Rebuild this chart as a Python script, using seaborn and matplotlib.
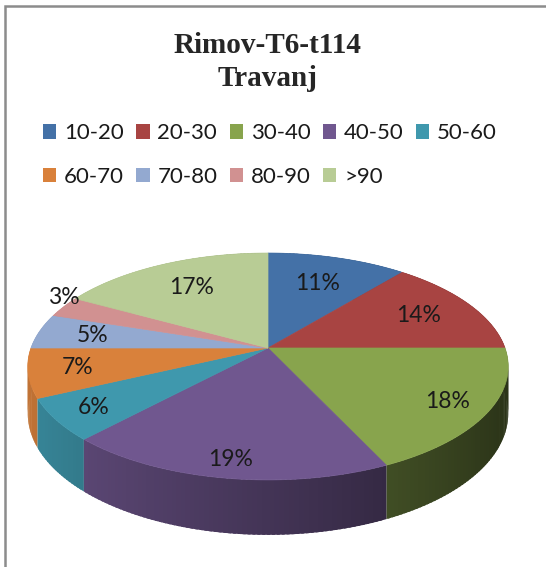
import numpy as np
import matplotlib
matplotlib.use("Agg")
import matplotlib.pyplot as plt
from matplotlib.patches import Polygon, Rectangle
from matplotlib.colors import to_rgb
import seaborn as sns

sns.set_theme(style="white")
plt.rcParams["font.family"] = ["Lato", "DejaVu Sans"]

# data
title = "Rimov-T6-t114\nTravanj"
categories = ["10-20", "20-30", "30-40", "40-50", "50-60", "60-70", "70-80", "80-90", ">90"]
shares = [11, 14, 18, 19, 6, 7, 5, 3, 17]
colors = ["#4471a7", "#a84442", "#88a44d", "#70578f", "#3f98ad",
          "#d9813b", "#93a9d0", "#d19191", "#b8cc95"]

# 3d look (tilt, perspective, thickness)
TILT = 0.466
PERSP = 6.14
DEPTH = 0.194


def project(x, y, z=0.0):
    k = PERSP / (PERSP + y)
    return x * k, (TILT * y + DEPTH * z) * k


def shade(col, x):
    f = np.clip(0.6 - 0.3 * x, 0.3, 0.95)
    return tuple(c * f for c in to_rgb(col))


fig = plt.figure(figsize=(5.46, 5.67), dpi=100)
W, H = 546, 567
cx, cy, R = 268, 348, 237

# chart frame (gray border, cut at right/bottom)
fig.patches.append(Rectangle((5 / W, -0.1), 1.2, (H - 6) / H + 0.1, transform=fig.transFigure,
                             fill=False, edgecolor="#8c8c8c", linewidth=1.8))

ax = fig.add_axes([(cx - 1.1 * R) / W, (H - cy - 0.9 * R) / H, 2.2 * R / W, 1.4 * R / H])
ax.set_xlim(-1.1, 1.1)
ax.set_ylim(-0.9, 0.5)
ax.axis("off")

total = sum(shares)
bounds = np.concatenate([[0], np.cumsum(shares)]) / total * 2 * np.pi

# side wall: small overlapping segments drawn back to front
segs = []
step = np.radians(1.0)
for i, col in enumerate(colors):
    a0, a1 = bounds[i], bounds[i + 1]
    n = max(2, int(np.ceil((a1 - a0) / step)))
    t = np.linspace(a0, a1, n + 1)
    for j in range(n):
        segs.append((t[j], min(t[j + 1] + step * 0.6, a1), col))
segs.sort(key=lambda s: -np.cos((s[0] + s[1]) / 2))
for t0, t1, col in segs:
    tt = np.linspace(t0, t1, 3)
    top = [project(np.sin(a), np.cos(a), 0) for a in tt]
    bot = [project(np.sin(a), np.cos(a), -1) for a in tt[::-1]]
    c = shade(col, np.sin((t0 + t1) / 2))
    ax.add_patch(Polygon(top + bot, closed=True, facecolor=c, edgecolor="none", linewidth=0))

# top faces
for i, col in enumerate(colors):
    tt = np.linspace(bounds[i], bounds[i + 1], 80)
    pts = [project(0, 0)] + [project(np.sin(a), np.cos(a)) for a in tt]
    ax.add_patch(Polygon(pts, closed=True, facecolor=col, edgecolor=col, linewidth=0.5))

# percentage labels
for i, v in enumerate(shares):
    mid = (bounds[i] + bounds[i + 1]) / 2
    r = 0.78 - 0.1 * np.cos(mid)
    if v / total < 0.04:
        r = 1.0
    lx, ly = project(r * np.sin(mid), r * np.cos(mid))
    if v / total < 0.04:
        ly += 0.04
    ax.text(lx, ly, f"{v / total:.0%}", ha="center", va="center",
            fontsize=16.5, color="#1a1a1a")

fig.text(cx / W, 1 - 62 / H, title, ha="center", va="center", fontsize=21,
         fontweight="bold", family="Liberation Serif", linespacing=1.25)

handles = [Rectangle((0, 0), 1, 1, facecolor=c, edgecolor="none") for c in colors]
order = [0, 5, 1, 6, 2, 7, 3, 8, 4]
fig.legend([handles[i] for i in order], [categories[i] for i in order],
           loc="center", bbox_to_anchor=(270 / W, 1 - 155 / H), ncol=5, frameon=False,
           fontsize=16, handlelength=0.6, handleheight=0.6, handletextpad=0.35,
           columnspacing=0.55, labelspacing=1.05, labelcolor="#1a1a1a")

fig.savefig("out.png", dpi=100)
